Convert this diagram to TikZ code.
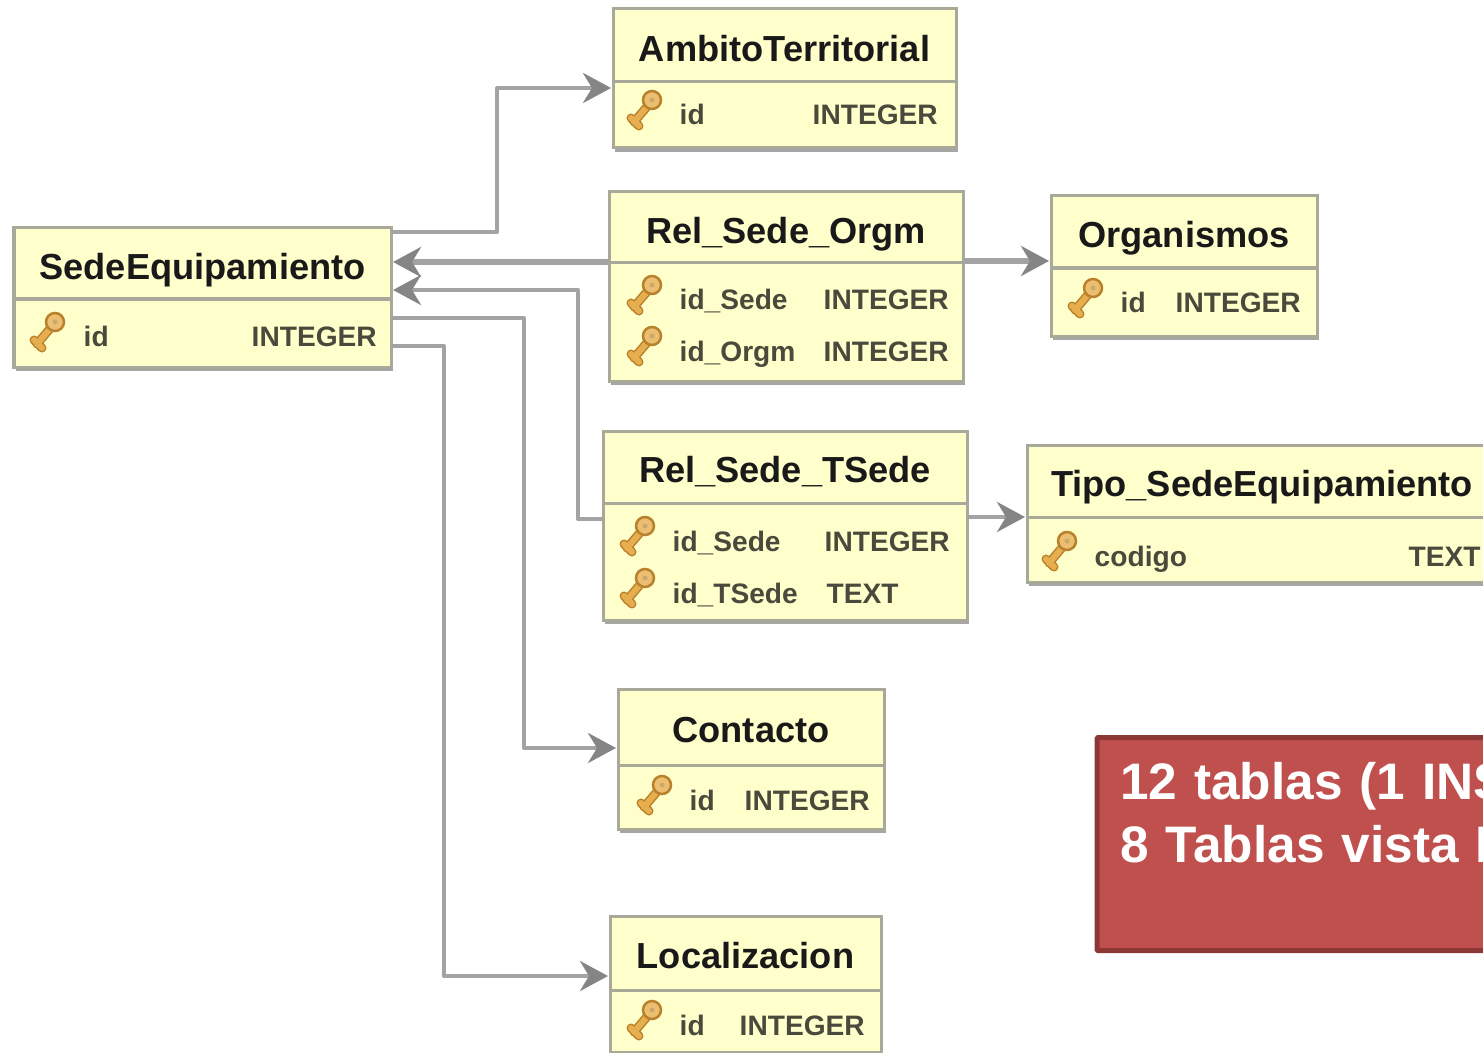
\documentclass[tikz,border=0pt]{standalone}
\usepackage{fontspec}
\setmainfont{Liberation Sans}
\usetikzlibrary{arrows.meta,shadows}

\definecolor{tblfill}{HTML}{FFFFCC}
\definecolor{tblline}{HTML}{A9A99A}
\definecolor{tblshade}{HTML}{A6A6A6}
\definecolor{linkgray}{HTML}{A3A3A3}
\definecolor{tiptone}{HTML}{858585}
\definecolor{rowtext}{HTML}{4A4A3C}
\definecolor{keygold}{HTML}{E6AE4E}
\definecolor{keyedge}{HTML}{B9812B}
\definecolor{notefill}{HTML}{C0504D}
\definecolor{noteline}{HTML}{8C3836}

\tikzset{
  tblpart/.style={draw=tblline, fill=tblfill, line width=.03cm, inner sep=0pt, outer sep=0pt,
    general shadow={fill=tblshade, shadow xshift=.02cm, shadow yshift=-.04cm}},
  tblhead/.style={tblpart, font=\fontsize{10.3pt}{12pt}\selectfont\bfseries, text=black!90,
    text height=.31cm, text depth=0pt},
  rowlabel/.style={anchor=base west, inner sep=0pt, text=rowtext, font=\fontsize{8pt}{10pt}\selectfont\bfseries},
  fklink/.style={draw=linkgray, line width=.04cm, line join=round},
  fktip/.style={-{Stealth[length=.28cm,width=.3cm,inset=.09cm,color=tiptone]}, shorten >=.02cm},
  notebox/.style={draw=noteline, fill=notefill, line width=.05cm, rounded corners=.01cm, inner xsep=.23cm,
    inner ysep=0pt, text=white, align=left, text width=5cm, minimum height=2.13cm,
    font=\fontsize{14.6pt}{18.1pt}\selectfont\bfseries},
  keyicon/.pic={
    \draw[keyedge, line width=.09cm, line cap=round] (6,-8) -- (-11,12) (-14,8) -- (-6,16);
    \draw[keygold, line width=.06cm, line cap=round] (6,-8) -- (-11,12) (-14,8) -- (-6,16);
    \draw[keyedge, fill=keygold!80!white, line width=.025cm] (7,-10) circle [radius=9];
    \fill[keyedge!70] (7,-10) circle [radius=2.5];
  }
}

% name, left, top, width, head height, body height, title
\newcommand{\dbtable}[7]{
  \node[tblhead, anchor=north west, minimum width=#4*.01cm, minimum height=#5*.01cm] (#1) at (#2,#3) {#7};
  \node[tblpart, anchor=north, minimum width=#4*.01cm, minimum height=#6*.01cm] (#1-body) at (#1.south) {};
}
% row name, key x, text x, type x, baseline, field, type
\newcommand{\dbrow}[7]{
  \pic at (#2,#5-15) {keyicon};
  \node[rowlabel] (#1-field) at (#3,#5) {#6};
  \node[rowlabel] (#1-type) at (#4,#5) {#7};
}

\begin{document}
\begin{tikzpicture}[x=.01cm,y=-.01cm]
  \path[use as bounding box, clip] (0,0) rectangle (1483,1052);
  \fill[white] (0,0) rectangle (1483,1052);

  \dbtable{sede}{14}{228}{377}{71}{68}{SedeEquipamiento}
  \dbrow{sede-id}{48}{83}{251}{347}{id}{INTEGER}

  \dbtable{ambito}{613}{9}{343}{73}{66}{AmbitoTerritorial}
  \dbrow{ambito-id}{645}{679}{812}{125}{id}{INTEGER}

  \dbtable{relorgm}{609}{192}{354}{71}{118}{Rel\_Sede\_Orgm}
  \dbrow{relorgm-sede}{645}{679}{823}{310}{id\_Sede}{INTEGER}
  \dbrow{relorgm-orgm}{645}{679}{823}{361}{id\_Orgm}{INTEGER}

  \dbtable{organismos}{1051}{196}{266}{72}{68}{Organismos}
  \dbrow{organismos-id}{1086}{1120}{1175}{313}{id}{INTEGER}

  \dbtable{reltsede}{603}{431}{364}{72}{117}{Rel\_Sede\_TSede}
  \dbrow{reltsede-sede}{638}{672}{824}{551}{id\_Sede}{INTEGER}
  \dbrow{reltsede-tsede}{638}{672}{826}{603}{id\_TSede}{TEXT}

  \dbtable{tipo}{1027}{445}{470}{72}{65}{Tipo\_SedeEquipamiento}
  \dbrow{tipo-codigo}{1060}{1094}{1408}{566}{codigo}{TEXT}

  \dbtable{contacto}{618}{689}{266}{76}{64}{Contacto}
  \dbrow{contacto-id}{655}{689}{744}{810}{id}{INTEGER}

  \dbtable{localizacion}{610}{916}{271}{74}{62}{Localizacion}
  \dbrow{localizacion-id}{645}{679}{739}{1035}{id}{INTEGER}

  % links between the tables
  \draw[fklink, fktip] (sede.east |- 0,232) -- (497,232) -- (497,88) -- (ambito.west |- 0,88);
  \draw[fklink, fktip, line width=.05cm] (relorgm.west |- 0,262) -- (sede.east |- 0,262);
  \draw[fklink, fktip] (reltsede.west |- 0,519) -- (578,519) -- (578,290) -- (sede.east |- 0,290);
  \draw[fklink, fktip] (sede-body.east |- 0,318) -- (524,318) -- (524,748) -- (contacto.west |- 0,748);
  \draw[fklink, fktip] (sede-body.east |- 0,346) -- (444,346) -- (444,976) -- (localizacion.west |- 0,976);
  \draw[fklink, fktip, line width=.05cm] (relorgm.east |- 0,261) -- (organismos.west |- 0,261);
  \draw[fklink, fktip] (reltsede.east |- 0,517) -- (tipo.west |- 0,517);

  \node[notebox, anchor=north west] (resumen) at (1094.5,735) {12 tablas (1 INS\\8 Tablas vista I\\~};
\end{tikzpicture}
\end{document}
